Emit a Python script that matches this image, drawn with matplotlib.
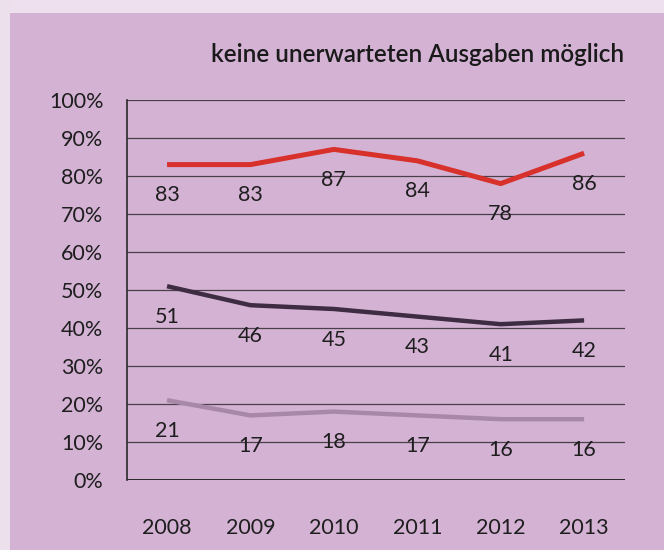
import matplotlib
matplotlib.use("Agg")
import matplotlib.pyplot as plt
from matplotlib.patches import Rectangle

years = ["2008", "2009", "2010", "2011", "2012", "2013"]
red_vals = [83, 83, 87, 84, 78, 86]
dark_vals = [51, 46, 45, 43, 41, 42]
light_vals = [21, 17, 18, 17, 16, 16]
yticks = [0, 10, 20, 30, 40, 50, 60, 70, 80, 90, 100]
title = "keine unerwarteten Ausgaben möglich"

plt.rcParams['font.family'] = ['Lato', 'DejaVu Sans']

W, H = 664, 550
fig = plt.figure(figsize=(W / 100, H / 100), dpi=100)
fig.patch.set_facecolor('#d4b2d4')
# outer light border
fig.patches.append(Rectangle((0, 1 - 13 / H), 1, 13 / H, transform=fig.transFigure,
                             facecolor='#efe0ef', edgecolor='none', zorder=0))
fig.patches.append(Rectangle((0, 0), 10 / W, 1, transform=fig.transFigure,
                             facecolor='#ede0ed', edgecolor='none', zorder=0))

ax = fig.add_axes([127 / W, 1 - 480 / H, (625 - 127) / W, (480 - 100) / H])
ax.set_facecolor('none')
x = list(range(len(years)))

ax.set_xlim(-0.48, 5.49)
ax.set_ylim(0, 100)

for v in yticks:
    ax.axhline(v, color='#4a404a', lw=0.9, zorder=1)
ax.axhline(0, color='#2a2a2a', lw=1.4, zorder=1)

ax.plot(x, red_vals, color='#d8302a', lw=3.6, solid_capstyle='butt', zorder=3)
ax.plot(x, dark_vals, color='#3e2c42', lw=3.2, solid_capstyle='butt', zorder=3)
ax.plot(x, light_vals, color='#a888a8', lw=3.2, solid_capstyle='butt', zorder=3)

for series in (red_vals, dark_vals, light_vals):
    for xi, v in zip(x, series):
        ax.annotate(str(v), (xi, v), xytext=(0, -22), textcoords='offset points',
                    ha='center', va='center', fontsize=15.5, color='#1e1e1e', zorder=4)

for s in ['top', 'right', 'bottom']:
    ax.spines[s].set_visible(False)
ax.spines['left'].set_color('#2a2a2a')
ax.spines['left'].set_linewidth(1.2)

ax.set_yticks(yticks)
ax.set_yticklabels([f"{v}%" for v in yticks], fontsize=15.5, color='#1e1e1e')
ax.set_xticks(x)
ax.set_xticklabels(years, fontsize=15.5, color='#1e1e1e')
ax.tick_params(axis='y', length=0, pad=17)
ax.tick_params(axis='x', length=0, pad=27)

fig.text(418 / W, 1 - 55 / H, title, ha='center', va='center', fontsize=17.5,
         fontweight='semibold', color='#1a1a1a')

fig.savefig('out.png', dpi=100, facecolor=fig.get_facecolor())
